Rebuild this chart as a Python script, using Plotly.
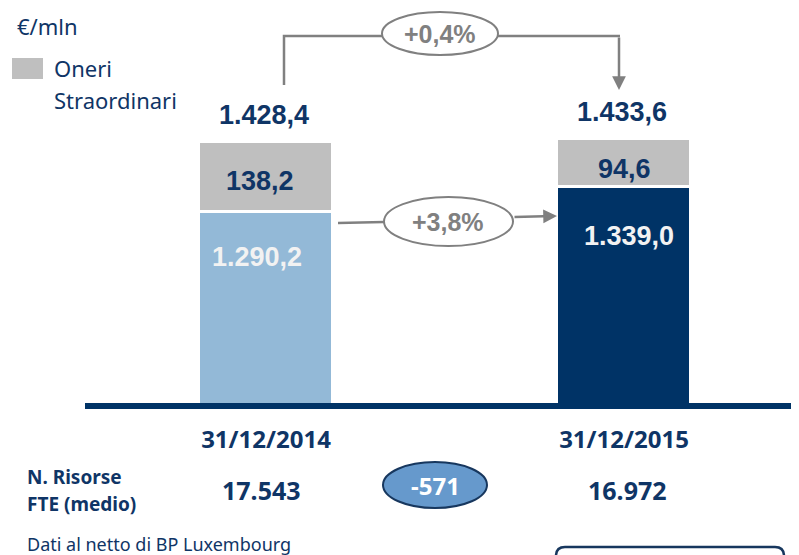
import plotly.graph_objects as go

# ---- data ----
categories = ["31/12/2014", "31/12/2015"]
costi_ordinari = [1290.2, 1339.0]
oneri_straordinari = [138.2, 94.6]
totali = [1428.4, 1433.6]
fte_medio = [17543, 16972]
bar_colors = ["#93B9D7", "#003366"]
gray = "#BFBFBF"
navy = "#003366"
navy_txt = "#0F3566"
arrow_gray = "#808080"

def it_num(v, dec=1):
    s = f"{v:,.{dec}f}"
    return s.replace(",", "X").replace(".", ",").replace("X", ".")

var_tot = (totali[1] / totali[0] - 1) * 100
var_ord = (costi_ordinari[1] / costi_ordinari[0] - 1) * 100
delta_fte = fte_medio[1] - fte_medio[0]

# ---- layout geometry (page has an 8px body margin) ----
OFF = 8
W, H = 799 - OFF, 555 - OFF
ML, MB, MT = 85 - OFF, 152, 0
PW = W - ML
PH = H - MB - MT
def X(px):  # screen px -> paper
    return (px - OFF - ML) / PW
def Y(py):
    return (H - MB - (py - OFF)) / PH

fig = go.Figure()
fig.add_trace(go.Bar(
    x=categories, y=costi_ordinari, marker=dict(color=bar_colors, line=dict(color="white", width=3)),
    width=0.377, hoverinfo="skip", showlegend=False))
fig.add_trace(go.Bar(
    x=categories, y=oneri_straordinari, marker=dict(color=gray, line=dict(color="white", width=3)),
    width=0.377, hoverinfo="skip", name="Oneri Straordinari", showlegend=False))

ann = []
bold_arial = "Liberation Sans, Arial, sans-serif"
calibri = "Noto Sans, sans-serif"

def pa(px, py, text, font, xanchor="center", **kw):
    d = dict(x=X(px), y=Y(py), xref="paper", yref="paper", text=text, showarrow=False,
             xanchor=xanchor, yanchor="middle", font=font)
    d.update(kw)
    return d

# totals above bars
for c, t in zip(categories, totali):
    ann.append(dict(x=c, y=t, xref="x", yref="y", text=f"<b>{it_num(t)}</b>", showarrow=False,
                    xanchor="center", yanchor="middle",
                    yshift=27, xshift=-2, font=dict(family=bold_arial, size=27, color=navy_txt)))
# gray segment labels
shifts_g = [(-6, -4), (0, -6)]
for i, (c, o, s) in enumerate(zip(categories, costi_ordinari, oneri_straordinari)):
    ann.append(dict(x=c, y=o + s / 2, xref="x", yref="y", text=f"<b>{it_num(s)}</b>", showarrow=False,
                    xanchor="center", yanchor="middle",
                    xshift=shifts_g[i][0], yshift=shifts_g[i][1],
                    font=dict(family=bold_arial, size=27, color=navy_txt)))
# ordinary segment labels
shifts_b = [(-9, -45), (5, -49)]
for i, (c, o) in enumerate(zip(categories, costi_ordinari)):
    ann.append(dict(x=c, y=o, xref="x", yref="y", text=f"<b>{it_num(o)}</b>", showarrow=False,
                    xanchor="center", yanchor="middle",
                    xshift=shifts_b[i][0], yshift=shifts_b[i][1],
                    font=dict(family=bold_arial, size=27, color="#F2F2F2")))

# unit & legend
f_leg = dict(family=calibri, size=22, color=navy_txt)
ann.append(pa(15, 26, "€/mln", f_leg, xanchor="left"))
ann.append(pa(52, 68, "Oneri", f_leg, xanchor="left"))
ann.append(pa(52, 100, "Straordinari", f_leg, xanchor="left"))

# variation ellipses text
f_var = dict(family=bold_arial, size=25, color=arrow_gray)
ann.append(pa(440, 34, f"<b>+{it_num(var_tot)}%</b>", f_var))
ann.append(pa(448, 222, f"<b>+{it_num(var_ord)}%</b>", f_var))

# arrows
ann.append(dict(x=X(619), y=Y(90), xref="paper", yref="paper", text="", showarrow=True,
                ax=0, ay=-54, arrowhead=2, arrowsize=1.1, arrowwidth=2.5, arrowcolor=arrow_gray, standoff=0))
ann.append(dict(x=X(557), y=Y(216), xref="paper", yref="paper", text="", showarrow=True,
                ax=-44, ay=1, arrowhead=2, arrowsize=1.1, arrowwidth=2.5, arrowcolor=arrow_gray, standoff=0))

# bottom section
f_lab = dict(family=calibri, size=19, color=navy_txt)
ann.append(pa(25, 477, "<b>N. Risorse</b>", f_lab, xanchor="left"))
ann.append(pa(25, 504, "<b>FTE (medio)</b>", f_lab, xanchor="left"))
for c, f in zip(categories, fte_medio):
    ann.append(dict(x=c, y=Y(490), xref="x", yref="paper", text=f"<b>{it_num(f, 0)}</b>", showarrow=False,
                    xanchor="center", yanchor="middle",
                    xshift=-5 if c == categories[0] else 3,
                    font=dict(family=calibri, size=25, color=navy_txt)))
ann.append(pa(435, 485, f"<b>{it_num(delta_fte, 0)}</b>", dict(family=calibri, size=24, color="white")))
ann.append(pa(25, 544, "Dati al netto di BP Luxembourg", dict(family=calibri, size=18, color=navy_txt),
              xanchor="left"))

shapes = []
# legend square
shapes.append(dict(type="rect", xref="paper", yref="paper", x0=X(12), x1=X(43), y0=Y(58), y1=Y(79),
                   fillcolor=gray, line=dict(width=0)))
# top connector
shapes.append(dict(type="path", xref="paper", yref="paper",
                   path=f"M {X(284)},{Y(85)} L {X(284)},{Y(36)} L {X(382)},{Y(36)}",
                   line=dict(color=arrow_gray, width=2.5)))
shapes.append(dict(type="line", xref="paper", yref="paper", x0=X(498), y0=Y(36), x1=X(620), y1=Y(36),
                   line=dict(color=arrow_gray, width=2.5)))
shapes.append(dict(type="circle", xref="paper", yref="paper", x0=X(382), x1=X(498), y0=Y(12), y1=Y(55),
                   fillcolor="white", line=dict(color=arrow_gray, width=2)))
# middle connector
shapes.append(dict(type="line", xref="paper", yref="paper", x0=X(338), y0=Y(223), x1=X(384), y1=Y(222),
                   line=dict(color=arrow_gray, width=2.5)))
shapes.append(dict(type="circle", xref="paper", yref="paper", x0=X(384), x1=X(513), y0=Y(197), y1=Y(246),
                   fillcolor="white", line=dict(color=arrow_gray, width=2)))
# -571 ellipse
shapes.append(dict(type="circle", xref="paper", yref="paper", x0=X(383), x1=X(487), y0=Y(462), y1=Y(508),
                   fillcolor="#6699CC", line=dict(color="#17375E", width=2), layer="below"))
# bottom-right rounded box (cut by canvas)
r = 9
x0, x1, yt, yb = 556, 784, 547, 575
shapes.append(dict(type="path", xref="paper", yref="paper",
                   path=(f"M {X(x0)},{Y(yb)} L {X(x0)},{Y(yt + r)} Q {X(x0)},{Y(yt)} {X(x0 + r)},{Y(yt)} "
                         f"L {X(x1 - r)},{Y(yt)} Q {X(x1)},{Y(yt)} {X(x1)},{Y(yt + r)} L {X(x1)},{Y(yb)}"),
                   line=dict(color="#17375E", width=2.5)))

# axis ranges: bar centres at 266 / 624 px, 358 px per category; 0.5065 px per €mln
x_lo = -(266 - 85) / 358
x_hi = x_lo + PW / 358
y_lo = 913
y_hi = y_lo + PH / 0.5065

fig.update_layout(
    width=W, height=H, barmode="stack", bargap=0,
    margin=dict(l=ML, r=0, t=MT, b=MB, pad=0),
    paper_bgcolor="white", plot_bgcolor="white",
    xaxis=dict(type="category", range=[x_lo, x_hi], showline=True, linecolor=navy, linewidth=6,
               showgrid=False, zeroline=False, ticks="", ticklabelstandoff=10,
               tickfont=dict(family=calibri, size=24, color=navy_txt, weight="bold")),
    yaxis=dict(range=[y_lo, y_hi], visible=False, showgrid=False, zeroline=False),
    annotations=ann, shapes=shapes,
)
fig.write_html("out.html")
